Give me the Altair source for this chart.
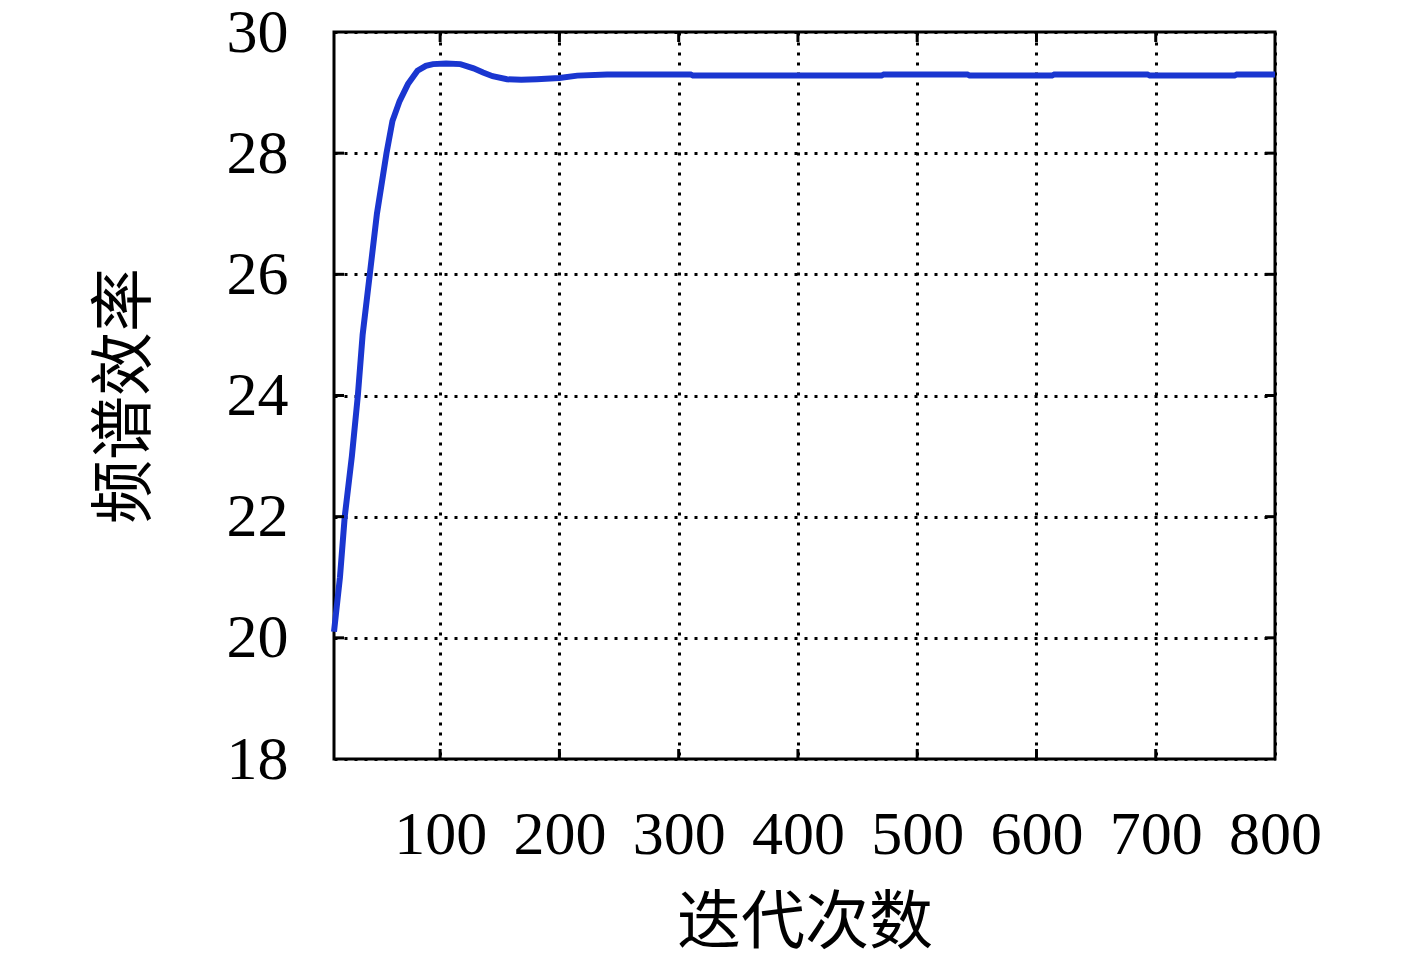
import altair as alt
import pandas as pd

# Data
iters = [11, 16, 20, 26, 31, 35, 41, 47, 55, 60, 66, 73, 81, 88, 94, 105, 117, 128, 136, 144, 156, 168, 181, 200, 215, 240,
         310, 312, 470, 472, 542, 544, 613, 615, 693, 695, 766, 768, 800]
eff = [20.1, 21.0, 22.0, 23.0, 24.0, 25.0, 26.0, 27.0, 28.0, 28.53, 28.86, 29.14, 29.36, 29.44, 29.47, 29.48, 29.47, 29.40,
       29.33, 29.27, 29.22, 29.21, 29.22, 29.24, 29.28, 29.30,
       29.30, 29.28, 29.28, 29.30, 29.30, 29.28, 29.28, 29.30, 29.30, 29.28, 29.28, 29.30, 29.30]

x_ticks = [100, 200, 300, 400, 500, 600, 700, 800]
y_ticks = [18, 20, 22, 24, 26, 28, 30]
x_domain = [11, 800]
y_domain = [18, 30]

W, H = 941, 727
SERIF = "Liberation Serif"
CJK = "Noto Sans CJK SC"

df = pd.DataFrame({"iter": iters, "eff": eff})
xt = pd.DataFrame({"iter": x_ticks[:-1]})
yt = pd.DataFrame({"eff": y_ticks[1:-1]})

xs = alt.Scale(domain=x_domain, nice=False, zero=False)
ys = alt.Scale(domain=y_domain, nice=False, zero=False)

x_axis = alt.Axis(values=x_ticks, grid=True, gridDash=[3, 7], gridColor="black",
                  gridWidth=3, gridOpacity=1, tickSize=0, domain=False,
                  labelFont=SERIF, labelFontSize=62, labelColor="black",
                  labelBaseline="alphabetic", labelPadding=94, labelFlush=False,
                  labelOverlap=False,
                  titleFont=CJK, titleFontSize=64, titleFontWeight="normal",
                  titleColor="black", titleX=470.5, titleY=164,
                  titleBaseline="middle", titleAlign="center")
y_axis = alt.Axis(values=y_ticks, grid=True, gridDash=[3, 7], gridColor="black",
                  gridWidth=3, gridOpacity=1, tickSize=0, domain=False,
                  labelFont=SERIF, labelFontSize=62, labelColor="black",
                  labelAlign="right", labelBaseline="middle", labelPadding=46,
                  labelFlush=False, labelOverlap=False,
                  titleFont=CJK, titleFontSize=64, titleFontWeight="normal",
                  titleColor="black", titleX=-209, titleY=363.5, titleAngle=270,
                  titleBaseline="middle", titleAlign="center")

X = alt.X("iter:Q", scale=xs, title="迭代次数", axis=x_axis)
Y = alt.Y("eff:Q", scale=ys, title="频谱效率", axis=y_axis)

line = alt.Chart(df).mark_line(color="#1a36d0", strokeWidth=6).encode(x=X, y=Y)

tick_style = dict(color="black", strokeWidth=3)
bottom_ticks = alt.Chart(xt).mark_rule(**tick_style).encode(
    x=X, y=alt.value(H), y2=alt.value(H - 10))
top_ticks = alt.Chart(xt).mark_rule(**tick_style).encode(
    x=X, y=alt.value(0), y2=alt.value(10))
left_ticks = alt.Chart(yt).mark_rule(**tick_style).encode(
    y=Y, x=alt.value(0), x2=alt.value(10))
right_ticks = alt.Chart(yt).mark_rule(**tick_style).encode(
    y=Y, x=alt.value(W), x2=alt.value(W - 10))

chart = alt.layer(line, bottom_ticks, top_ticks, left_ticks, right_ticks).properties(
    width=W, height=H,
    autosize=alt.AutoSizeParams(type="none"),
    padding={"left": 326, "top": 24, "right": 100, "bottom": 205},
    background="white",
).configure_view(stroke="black", strokeWidth=3)

chart.save("out.html", embed_options={"renderer": "svg", "actions": False})
